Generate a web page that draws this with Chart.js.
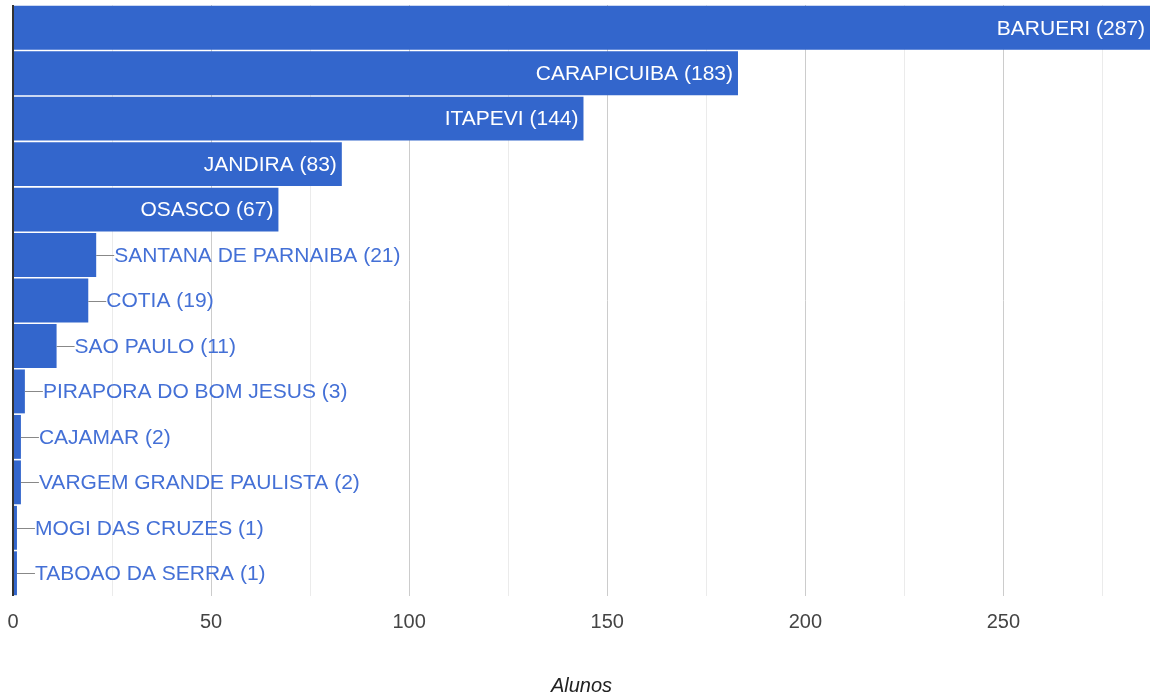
<!DOCTYPE html>
<html>
<head>
<meta charset="utf-8">
<script src="https://cdn.jsdelivr.net/npm/chart.js@4"></script>
<style>
html,body{margin:0;padding:0;background:#fff;}
#wrap{width:1150px;height:699px;position:relative;}
</style>
</head>
<body>
<div id="wrap"><canvas id="c" width="1150" height="699"></canvas></div>
<script>
const categories = ["BARUERI","CARAPICUIBA","ITAPEVI","JANDIRA","OSASCO","SANTANA DE PARNAIBA","COTIA","SAO PAULO","PIRAPORA DO BOM JESUS","CAJAMAR","VARGEM GRANDE PAULISTA","MOGI DAS CRUZES","TABOAO DA SERRA"];
const alunos = [287,183,144,83,67,21,19,11,3,2,2,1,1];
const axisTitle = "Alunos";
const FONT = '"Liberation Sans", Arial, sans-serif';

const labelPlugin = {
  id: 'barLabels',
  afterDatasetsDraw(chart) {
    const ctx = chart.ctx;
    const meta = chart.getDatasetMeta(0);
    const area = chart.chartArea;
    ctx.save();
    // left axis line
    ctx.strokeStyle = '#333333';
    ctx.lineWidth = 2;
    ctx.beginPath();
    ctx.moveTo(area.left, area.top);
    ctx.lineTo(area.left, area.bottom);
    ctx.stroke();
    ctx.font = '21px ' + FONT;
    ctx.textBaseline = 'middle';
    meta.data.forEach((bar, i) => {
      const txt = categories[i] + ' (' + alunos[i] + ')';
      const w = ctx.measureText(txt).width;
      const left = bar.base, right = bar.x, y = bar.y;
      if (w + 12 < right - left) {
        ctx.fillStyle = '#ffffff';
        ctx.textAlign = 'right';
        ctx.fillText(txt, right - 5, y + 1);
      } else {
        ctx.strokeStyle = '#888888';
        ctx.lineWidth = 1;
        ctx.beginPath();
        ctx.moveTo(right, Math.round(y) + 0.5);
        ctx.lineTo(right + 18, Math.round(y) + 0.5);
        ctx.stroke();
        ctx.fillStyle = '#4470d6';
        ctx.textAlign = 'left';
        ctx.fillText(txt, right + 18, y + 1);
      }
    });
    ctx.restore();
  }
};

new Chart(document.getElementById('c'), {
  type: 'bar',
  data: {
    labels: categories,
    datasets: [{
      data: alunos,
      backgroundColor: '#3366cc',
      borderWidth: 0,
      barPercentage: 0.965,
      categoryPercentage: 1.0
    }]
  },
  options: {
    indexAxis: 'y',
    responsive: false,
    animation: false,
    devicePixelRatio: 1,
    layout: { padding: { top: 5, right: 0, bottom: 1, left: 13 } },
    plugins: { legend: { display: false }, tooltip: { enabled: false } },
    scales: {
      x: {
        min: 0, max: 287,
        afterFit(scale) { scale.paddingLeft = 0; scale.paddingRight = 0; },
        ticks: {
          stepSize: 25,
          includeBounds: false,
          autoSkip: false,
          maxRotation: 0,
          color: '#444444',
          font: { family: FONT, size: 20 },
          padding: 14,
          callback: (v) => (v % 50 === 0 ? String(v) : '')
        },
        grid: {
          drawTicks: false,
          color: (c) => (c.tick && c.tick.value % 50 === 0 ? '#cccccc' : '#ebebeb'),
          lineWidth: 1
        },
        border: { display: false },
        title: {
          display: true,
          text: axisTitle,
          color: '#222222',
          font: { family: FONT, size: 20, style: 'italic' },
          padding: { top: 26, bottom: 0 }
        }
      },
      y: {
        display: false
      }
    }
  },
  plugins: [labelPlugin]
});
</script>
</body>
</html>
